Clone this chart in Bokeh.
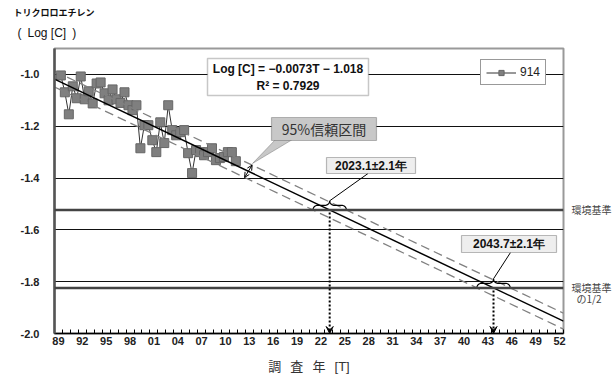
import numpy as np
from bokeh.plotting import figure
from bokeh.models import (Range1d, FixedTicker, PrintfTickFormatter, CustomJSTickFormatter,
                          Span, Label, BoxAnnotation, PolyAnnotation, Arrow, VeeHead, OpenHead,
                          Legend, LegendItem, ColumnDataSource, LinearAxis, Title)
from bokeh.embed import file_html
from bokeh.resources import INLINE

# Trichloroethylene, well 914: half-yearly survey results (log10 of concentration)
survey_year = [1989.3, 1989.8, 1990.3, 1990.8, 1991.3, 1991.8, 1992.3, 1992.8, 1993.3, 1993.8,
               1994.3, 1994.8, 1995.3, 1995.8, 1996.3, 1996.8, 1997.3, 1997.8, 1998.3, 1998.8,
               1999.3, 1999.8, 2000.3, 2000.8, 2001.3, 2001.8, 2002.3, 2002.8, 2003.3, 2003.8,
               2004.3, 2004.8, 2005.3, 2005.8, 2006.3, 2006.8, 2007.3, 2007.8, 2008.3, 2008.8,
               2009.3, 2009.8, 2010.3, 2010.8, 2011.3]
log_c = [-1.004, -1.069, -1.154, -1.046, -1.092, -1.008, -1.096, -1.065, -1.112, -1.035,
         -1.031, -1.073, -1.100, -1.058, -1.096, -1.110, -1.069, -1.119, -1.138, -1.119,
         -1.285, -1.196, -1.196, -1.254, -1.300, -1.185, -1.265, -1.119, -1.215, -1.235,
         -1.223, -1.215, -1.304, -1.381, -1.292, -1.300, -1.312, -1.300, -1.285, -1.331,
         -1.323, -1.319, -1.300, -1.300, -1.335]
series_name = "914"

# Regression Log[C] = slope*T + intercept, T counted in half-years from mid-1988
slope = -0.0073
intercept = -1.018
t_origin = 1988.5
r_squared = 0.7929
ci_years = 2.1

# Environmental standard (0.03 mg/L) and its half, as log10
std_level = np.log10(0.03)
half_level = np.log10(0.015)
std_year = 2023.1
half_year = 2043.7

tick_years = list(range(1989, 2053, 3))
y_ticks = [-2.0, -1.8, -1.6, -1.4, -1.2, -1.0]

X0, X1 = 1988.5, 2052.5
Y0, Y1 = -2.0, -0.9
L, R, T, B = 54, 53, 48, 43
W, H = 616, 376
FW, FH = W - L - R, H - T - B


def px_x(px):
    return X0 + (px - L) / FW * (X1 - X0)


def px_y(py):
    return Y1 - (py - T) / FH * (Y1 - Y0)


def fit(year):
    return intercept + slope * 2 * (np.asarray(year) - t_origin)


band = abs(slope) * 2 * ci_years

p = figure(width=W, height=H, output_backend="svg", toolbar_location=None,
           x_range=Range1d(X0, X1), y_range=Range1d(Y0, Y1),
           min_border_left=L, min_border_right=R, min_border_top=T, min_border_bottom=B)
p.title.visible = False
p.background_fill_color = "white"
p.border_fill_color = "white"
p.outline_line_color = "#999999"
p.outline_line_width = 2

# y-axis caption in the top-left corner (the line nearest the frame goes first)
p.add_layout(Title(text="(\u2002Log [C]\u2002)", align="left", offset=17 - L, standoff=17,
                   text_font="Liberation Sans", text_font_size="12px", text_font_style="normal",
                   text_color="#111111"), "above")
p.add_layout(Title(text="トリクロロエチレン", align="left", offset=13 - L, standoff=-6,
                   text_font="Noto Sans CJK JP", text_font_size="9px", text_font_style="bold",
                   text_color="#111111"), "above")

# x axis: two-digit year labels every three years, small inner ticks every year
p.xaxis.ticker = FixedTicker(ticks=tick_years, minor_ticks=[X0 + k for k in range(65)])
p.xaxis.formatter = CustomJSTickFormatter(
    code="return String(Math.round(tick) % 100).padStart(2, '0');")
p.xaxis.major_tick_line_color = None
p.xaxis.minor_tick_in = 4
p.xaxis.minor_tick_out = 0
p.xaxis.minor_tick_line_color = "black"
p.xaxis.axis_line_color = "black"
p.xaxis.axis_line_width = 1.5
p.xaxis.major_label_standoff = -3
p.xaxis.major_label_text_font = "Liberation Sans"
p.xaxis.major_label_text_font_style = "bold"
p.xaxis.major_label_text_font_size = "11px"
p.xaxis.major_label_text_color = "#222222"
p.xaxis.axis_label = "調\u2002\u2009査\u2002\u2009年\u2002\u2009[T]"
p.xaxis.axis_label_standoff = 11
p.xaxis.axis_label_text_font = "Liberation Sans, Noto Sans CJK JP"
p.xaxis.axis_label_text_font_size = "13px"
p.xaxis.axis_label_text_font_style = "normal"
p.xaxis.axis_label_text_color = "#333333"

p.yaxis.ticker = FixedTicker(ticks=y_ticks)
p.yaxis.formatter = PrintfTickFormatter(format="%.1f")
p.yaxis.major_tick_line_color = None
p.yaxis.minor_tick_line_color = None
p.yaxis.axis_line_color = "#555555"
p.yaxis.axis_line_width = 2.5
p.yaxis.major_label_standoff = 9
p.yaxis.major_label_text_font = "Liberation Sans"
p.yaxis.major_label_text_font_style = "bold"
p.yaxis.major_label_text_font_size = "11px"
p.yaxis.major_label_text_color = "#222222"

# right-hand axis naming the standard lines
line_gap = 11 / FH * (Y1 - Y0)
side_axis = LinearAxis(ticker=FixedTicker(ticks=[std_level, half_level, half_level - line_gap]),
                       formatter=CustomJSTickFormatter(
                           code="return tick > -1.84 ? '環境基準' : '\u2002の1/2';"),
                       axis_line_color=None, major_tick_line_color=None, minor_tick_line_color=None,
                       major_label_standoff=2, major_label_text_font="Noto Sans CJK JP",
                       major_label_text_font_size="10px", major_label_text_color="#444444")
p.add_layout(side_axis, "right")

p.xgrid.visible = False
p.ygrid.grid_line_color = "#111111"
p.ygrid.grid_line_width = 1

# standard lines
for lvl in (std_level, half_level):
    p.add_layout(Span(location=lvl, dimension="width", line_color="#444444", line_width=2.5))

# measured series
src = ColumnDataSource(dict(x=survey_year, y=log_c))
r_line = p.line("x", "y", source=src, line_color="#333333", line_width=1)
r_pts = p.scatter("x", "y", source=src, marker="square", size=9,
                  fill_color="#7f7f7f", line_color="#666666")

# regression line with 95% band
fx = np.array([X0, X1])
p.line(fx, fit(fx), line_color="black", line_width=1.5)
p.line(fx, fit(fx) + band, line_color="#808080", line_width=1.3, line_dash="9 5")
p.line(fx, fit(fx) - band, line_color="#808080", line_width=1.3, line_dash="9 5")

# legend
legend = Legend(items=[LegendItem(label=series_name, renderers=[r_line, r_pts])],
                location=(480 - L, H - B - 85), orientation="vertical",
                padding=5, margin=0, spacing=0, glyph_width=30, glyph_height=13,
                label_standoff=4, label_text_font="Liberation Sans",
                label_text_font_size="12px", label_text_color="#222222",
                border_line_color="#333333", border_line_width=1.5,
                background_fill_color="white", background_fill_alpha=1)
p.add_layout(legend)

# regression equation box
p.add_layout(BoxAnnotation(left=px_x(207), right=px_x(368), top=px_y(58), bottom=px_y(95),
                           fill_color="white", fill_alpha=1, line_color="#444444", line_width=1.5))
eq_font = dict(text_font="Liberation Sans", text_font_style="bold", text_font_size="12px",
               text_color="#111111", text_align="center", text_baseline="middle")
p.add_layout(Label(x=px_x(287.5), y=px_y(68),
                   text=f"Log [C] = \u2212{abs(slope):.4f}T \u2212 {abs(intercept):.3f}", **eq_font))
p.add_layout(Label(x=px_x(287.5), y=px_y(85), text=f"R\u00b2 = {r_squared:.4f}", **eq_font))

# 95% confidence interval callout
p.add_layout(PolyAnnotation(xs=[px_x(275), px_x(292), px_x(252)],
                            ys=[px_y(139), px_y(139), px_y(163)],
                            fill_color="#c8c8c8", fill_alpha=1, line_color="#333333", line_width=1))
p.add_layout(BoxAnnotation(left=px_x(271), right=px_x(376), top=px_y(117), bottom=px_y(140),
                           fill_color="#c8c8c8", fill_alpha=1, line_color="#333333", line_width=1.2))
p.add_layout(Label(x=px_x(323.5), y=px_y(128.5), text="95%信頼区間",
                   text_font="Noto Sans CJK JP", text_font_size="14px", text_color="#333333",
                   text_align="center", text_baseline="middle"))
ya, yb = 2013.35, 2012.4
p.add_layout(Arrow(x_start=ya, y_start=float(fit(ya)) + band, x_end=yb, y_end=float(fit(yb)) - band,
                   start=OpenHead(size=5, line_width=1), end=OpenHead(size=5, line_width=1),
                   line_width=1, line_color="black"))

# braces and crossing-year annotations
brace_h = 0.035


def brace(xc, half_w, y, h, r=0.6):
    t = np.linspace(np.pi, np.pi / 2, 12)
    x_a = xc - half_w + r + r * np.cos(t)
    y_a = y + h / 2 * np.sin(t)
    t2 = np.linspace(-np.pi / 2, 0, 12)
    x_b = xc - r + r * np.cos(t2)
    y_b = y + h + h / 2 * np.sin(t2)
    left_x = np.concatenate([x_a, x_b])
    left_y = np.concatenate([y_a, y_b])
    xs = np.concatenate([left_x, (2 * xc - left_x)[::-1]])
    ys = np.concatenate([left_y, left_y[::-1]])
    return xs, ys


for yr, lvl, box, anchor in [
    (std_year, std_level, (326, 415, 157, 173), (367.5, 173)),
    (half_year, half_level, (461, 556, 235, 252), (510, 252)),
]:
    bx, by = brace(yr, ci_years, lvl, brace_h)
    p.line(bx, by, line_color="black", line_width=1.2)
    p.add_layout(Arrow(x_start=px_x(anchor[0]), y_start=px_y(anchor[1]), x_end=yr, y_end=lvl + brace_h,
                       end=None, line_color="black", line_width=1))
    left, right, top, bottom = box
    p.add_layout(BoxAnnotation(left=px_x(left), right=px_x(right), top=px_y(top), bottom=px_y(bottom),
                               fill_color="#eeeeee", fill_alpha=1, line_color="#222222", line_width=1.2))
    p.add_layout(Label(x=px_x((left + right) / 2), y=px_y((top + bottom) / 2),
                       text=f"{yr:.1f}±{ci_years:.1f}年", text_font="Liberation Sans",
                       text_font_style="bold", text_font_size="12px", text_color="#111111",
                       text_align="center", text_baseline="middle"))
    p.add_layout(Arrow(x_start=yr, y_start=lvl - 0.01, x_end=yr, y_end=Y0,
                       end=VeeHead(size=7, fill_color="black", line_color="black"),
                       line_color="black", line_width=2, line_dash="2 2"))

open("out.html", "w").write(file_html(p, INLINE))
